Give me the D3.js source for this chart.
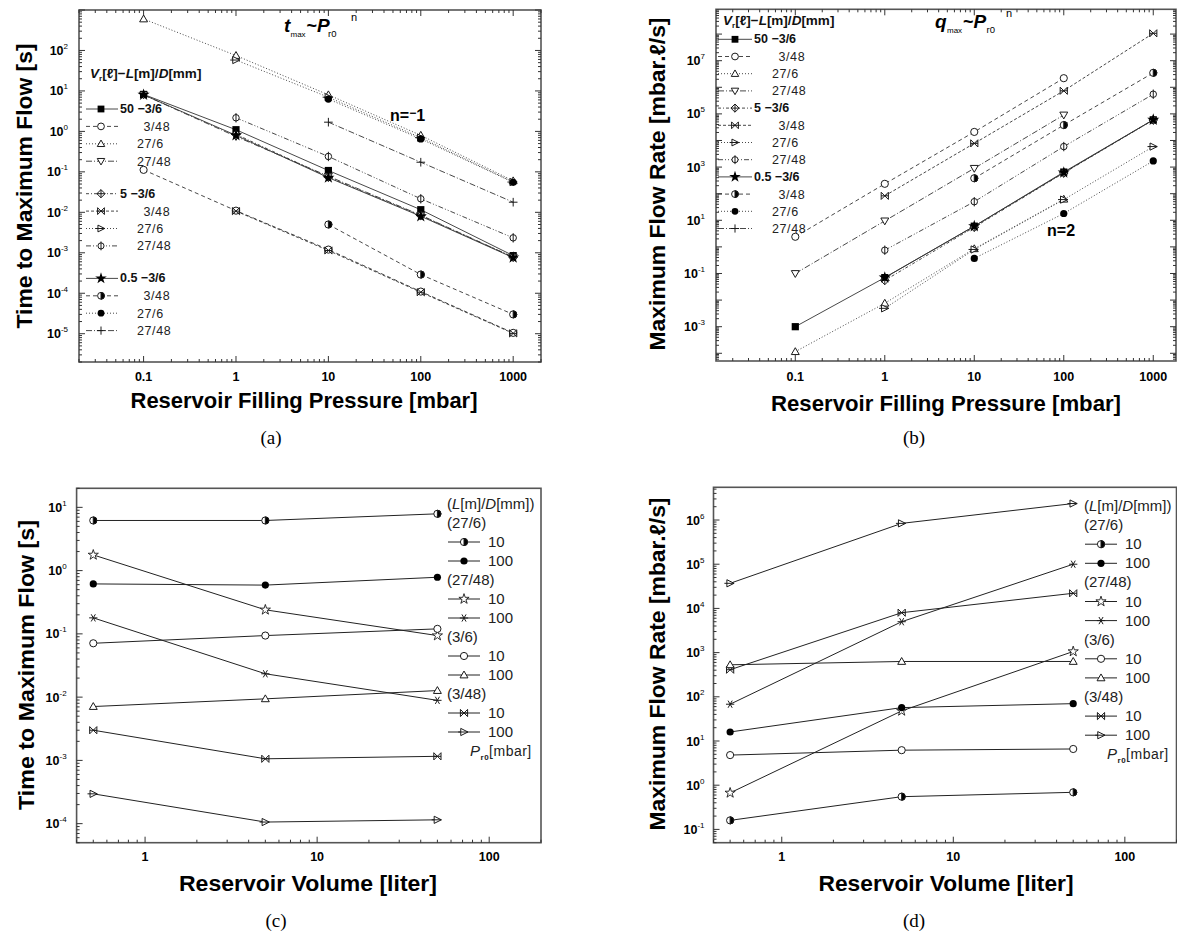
<!DOCTYPE html>
<html><head><meta charset="utf-8">
<script src="https://cdn.jsdelivr.net/npm/d3@7"></script>
<style>
body{margin:0;background:#fff;}
svg{display:block;font-family:"Liberation Sans",Arial,sans-serif;}
</style></head><body>
<script>
// ---------------- data ----------------
const pressures = [0.1, 1, 10, 100, 1000];          // reservoir filling pressure [mbar]
const volumes = [0.5, 5, 50];                       // reservoir volume [liter]
const groupVolumes = ["50", "5", "0.5"];            // V_r [l]
const geometries = ["3/6", "3/48", "27/6", "27/48"]; // L[m]/D[mm]

// time to maximum flow [s] versus pressure, one row per geometry
const tmaxV50 = [
  [8.2, 1.1, 0.108, 0.0116, 8.5e-4],
  [0.112, 0.011, 0.0012, 1.1e-4, 1.05e-5],
  [600, 75, 8.0, 0.8, 0.06],
  [8.0, 0.75, 0.078, 0.0085, 7.8e-4]
];
const tmaxV5 = [
  [null, 0.85, 0.074, 0.0083, 7.8e-4],
  [null, 0.0107, 0.00114, 1.06e-4, 1.02e-5],
  [null, 58, 7.0, 0.7, 0.056],
  [null, 2.17, 0.24, 0.0216, 0.00234]
];
const tmaxV05 = [
  [8.0, 0.8, 0.072, 0.008, 7.6e-4],
  [null, null, 0.005, 2.9e-4, 3.0e-5],
  [null, null, 6.3, 0.65, 0.055],
  [null, null, 1.69, 0.173, 0.0178]
];

// maximum flow rate [mbar.l/s] versus pressure
const qmaxV50 = [
  [1e-3, 0.07, 6, 650, 6e4],
  [2.4, 235, 2.1e4, 2.2e6, null],
  [1.15e-4, 0.0076, 0.85, 62, null],
  [0.1, 9.5, 900, 9.1e4, null]
];
const qmaxV5 = [
  [null, 0.055, 5.5, 600, 5.9e4],
  [null, 83, 7.8e3, 7.4e5, 1.07e8],
  [null, 0.0049, 0.8, 60, 5.9e3],
  [null, 0.75, 50, 5.9e3, 5.5e5]
];
const qmaxV05 = [
  [null, 0.07, 6, 620, 6e4],
  [null, null, 380, 3.8e4, 3.5e6],
  [null, null, 0.37, 18, 1.7e3],
  [null, null, null, null, null]
];

// versus reservoir volume, rows: 27/6, 27/48, 3/6, 3/48
const volGeometries = ["27/6", "27/48", "3/6", "3/48"];
const volPressures = ["10", "100"];
const tmaxP10 = [
  [6.2, 6.2, 7.9],
  [1.77, 0.24, 0.094],
  [0.071, 0.094, 0.12],
  [0.003, 0.00106, 0.00116]
];
const tmaxP100 = [
  [0.616, 0.59, 0.785],
  [0.179, 0.0234, 0.0089],
  [0.0071, 0.0094, 0.0127],
  [2.96e-4, 1.06e-4, 1.15e-4]
];
const qmaxP10 = [
  [0.16, 0.55, 0.69],
  [0.67, 48, 1060],
  [4.8, 6.2, 6.6],
  [410, 8000, 22000]
];
const qmaxP100 = [
  [16, 57, 70],
  [68, 5000, 1e5],
  [530, 630, 630],
  [3.7e4, 8.4e5, 2.36e6]
];

const pressureTickLabels = ["0.1", "1", "10", "100", "1000"];
const volumeTickLabels = ["1", "10", "100"];

// ---------------- styles ----------------
const abMarkers = ["sqf","circ","tri","trid","diaPlus","bowX","triR","phi","starF","half","dotF","plus"];
const abDashes = [null,"4,3","1,2","6,2,1,2","3,2,1,2","3,2","1,2","5,2,1,2,1,2",null,"4,3","1,2","6,2,1,2"];
const volMarkers = [["half","dotF"],["starO","aster"],["circ","tri"],["bowX","triR"]];

const INK = "#1a1a1a";

const svg = d3.select("body").append("svg").attr("width", 1177).attr("height", 936);

// ---------------- helpers ----------------
function marker(g, type, cx, cy, s) {
  const p = (d, fill) => g.append("path").attr("d", d).attr("stroke", INK).attr("stroke-width", 1).attr("fill", fill || "#fff");
  switch (type) {
    case "sqf": g.append("rect").attr("x", cx - s).attr("y", cy - s).attr("width", 2*s).attr("height", 2*s).attr("fill", "#000"); break;
    case "circ": g.append("circle").attr("cx", cx).attr("cy", cy).attr("r", s).attr("fill", "#fff").attr("stroke", INK); break;
    case "tri": p(`M${cx},${cy-s*1.1}L${cx+s*1.1},${cy+s*0.8}L${cx-s*1.1},${cy+s*0.8}Z`); break;
    case "trid": p(`M${cx},${cy+s*1.1}L${cx+s*1.1},${cy-s*0.8}L${cx-s*1.1},${cy-s*0.8}Z`); break;
    case "diaPlus":
      p(`M${cx},${cy-s*1.2}L${cx+s*1.2},${cy}L${cx},${cy+s*1.2}L${cx-s*1.2},${cy}Z`);
      p(`M${cx-s*1.2},${cy}H${cx+s*1.2}M${cx},${cy-s*1.2}V${cy+s*1.2}`, "none"); break;
    case "bowX":
      p(`M${cx-s},${cy-s}L${cx+s},${cy+s}L${cx+s},${cy-s}L${cx-s},${cy+s}Z`, "none");
      p(`M${cx-s},${cy}H${cx+s}`, "none"); break;
    case "triR":
      p(`M${cx-s*0.9},${cy-s}L${cx+s*1.1},${cy}L${cx-s*0.9},${cy+s}Z`);
      p(`M${cx-s*1.6},${cy}H${cx+s*1.1}`, "none"); break;
    case "phi":
      g.append("circle").attr("cx", cx).attr("cy", cy).attr("r", s*0.9).attr("fill", "#fff").attr("stroke", INK);
      p(`M${cx},${cy-s*1.3}V${cy+s*1.3}`, "none"); break;
    case "starF":
      g.append("path").attr("transform", `translate(${cx},${cy})`).attr("d", d3.symbol(d3.symbolStar, s*s*3.6)()).attr("fill", "#000"); break;
    case "starO":
      g.append("path").attr("transform", `translate(${cx},${cy})`).attr("d", d3.symbol(d3.symbolStar, s*s*2.5)()).attr("fill", "#fff").attr("stroke", INK).attr("stroke-width", 0.9); break;
    case "half":
      g.append("circle").attr("cx", cx).attr("cy", cy).attr("r", s).attr("fill", "#fff").attr("stroke", INK);
      p(`M${cx},${cy-s}A${s},${s} 0 0 1 ${cx},${cy+s}Z`, "#000"); break;
    case "dotF": g.append("circle").attr("cx", cx).attr("cy", cy).attr("r", s).attr("fill", "#000"); break;
    case "plus": p(`M${cx-s*1.2},${cy}H${cx+s*1.2}M${cx},${cy-s*1.2}V${cy+s*1.2}`, "none"); break;
    case "aster": {
      const a = s*1.15, b = a*0.866, c = a*0.5;
      p(`M${cx-a},${cy}H${cx+a}M${cx-c},${cy-b}L${cx+c},${cy+b}M${cx-c},${cy+b}L${cx+c},${cy-b}`, "none"); break;
    }
  }
}

function decadeTicks(domain) {
  const out = [];
  const k0 = Math.floor(Math.log10(domain[0])), k1 = Math.ceil(Math.log10(domain[1]));
  for (let k = k0; k <= k1; k++) for (let m = 1; m <= 9; m++) {
    const v = m * Math.pow(10, k);
    if (v >= domain[0] * 0.9999 && v <= domain[1] * 1.0001) out.push({v, major: m === 1, k});
  }
  return out;
}

function frameAxes(g, x, y, o) {
  const [x0, x1] = x.range(), [y0, y1] = y.range(); // y0 bottom, y1 top
  g.append("rect").attr("x", x0).attr("y", y1).attr("width", x1 - x0).attr("height", y0 - y1)
    .attr("fill", "none").attr("stroke", "#555").attr("stroke-width", 1.6);
  const tk = g.append("g").attr("stroke", "#333").attr("stroke-width", 1);
  decadeTicks(x.domain()).forEach(t => {
    const X = x(t.v), L = t.major ? 6 : 3;
    tk.append("line").attr("x1", X).attr("x2", X).attr("y1", y0).attr("y2", y0 - L);
    if (o.mirror) tk.append("line").attr("x1", X).attr("x2", X).attr("y1", y1).attr("y2", y1 + L);
  });
  decadeTicks(y.domain()).forEach(t => {
    const Y = y(t.v), L = t.major ? 6 : 3;
    tk.append("line").attr("x1", x0).attr("x2", x0 + L).attr("y1", Y).attr("y2", Y);
    if (o.mirror) tk.append("line").attr("x1", x1).attr("x2", x1 - L).attr("y1", Y).attr("y2", Y);
  });
  // x tick labels
  o.xLabels.forEach(lbl => {
    g.append("text").attr("x", x(+lbl)).attr("y", o.xLabelY).attr("text-anchor", "middle")
      .attr("font-size", 12.5).attr("font-weight", "bold").attr("fill", "#000").text(lbl);
  });
  // y tick labels: powers of ten
  o.yExps.forEach(e => {
    const t = g.append("text").attr("x", x0 - o.yLabelGap).attr("y", y(Math.pow(10, e)) + 4.5)
      .attr("text-anchor", "end").attr("fill", "#000");
    t.append("tspan").attr("font-size", 12.5).attr("font-weight", "bold").text("10");
    t.append("tspan").attr("font-size", 8).attr("dy", -6).text(e < 0 ? "-" + (-e) : String(e));
  });
  // axis titles
  g.append("text").attr("x", o.xTitle[0]).attr("y", o.xTitle[1]).attr("text-anchor", "middle")
    .attr("dy", "0.35em").attr("font-size", 22).attr("font-weight", "bold")
    .attr("textLength", o.xTitle[2]).attr("lengthAdjust", "spacingAndGlyphs").text(o.xTitleText);
  g.append("text").attr("transform", `translate(${o.yTitle[0]},${o.yTitle[1]}) rotate(-90)`)
    .attr("text-anchor", "middle").attr("dy", "0.35em").attr("font-size", 22).attr("font-weight", "bold")
    .attr("textLength", o.yTitle[2]).attr("lengthAdjust", "spacingAndGlyphs").text(o.yTitleText);
  g.append("text").attr("x", o.tag[0]).attr("y", o.tag[1]).attr("text-anchor", "middle").attr("dy", "0.35em")
    .attr("font-family", '"Liberation Serif", "DejaVu Serif", serif').attr("font-size", 19).text(o.tagText);
}

// ---------------- panels (a) and (b): versus pressure ----------------
function pressurePanel(cfg) {
  const g = svg.append("g");
  const x = d3.scaleLog().domain(cfg.xDomain).range(cfg.xRange);
  const y = d3.scaleLog().domain(cfg.yDomain).range(cfg.yRange);
  frameAxes(g, x, y, cfg.axes);
  const line = d3.line().defined(d => d != null).x((d, i) => x(pressures[i])).y(d => y(d));
  const rows = [];
  cfg.sets.forEach((set, gi) => set.forEach((vals, j) => rows.push({vals, idx: gi * 4 + j})));
  rows.forEach(r => {
    g.append("path").attr("d", line(r.vals)).attr("fill", "none").attr("stroke", "#333")
      .attr("stroke-width", 0.9).attr("stroke-dasharray", abDashes[r.idx]);
  });
  rows.forEach(r => r.vals.forEach((v, i) => { if (v != null) marker(g, abMarkers[r.idx], x(pressures[i]), y(v), 3.6); }));

  // legend
  const L = cfg.legend;
  const hdr = g.append("text").attr("x", L.x).attr("y", L.hy).attr("font-size", 13.5).attr("font-weight", "bold").attr("fill", "#111");
  hdr.append("tspan").attr("font-style", "italic").text("V");
  hdr.append("tspan").attr("font-size", 8).attr("dy", 3).text("r");
  hdr.append("tspan").attr("dy", -3).text("[ℓ]−");
  hdr.append("tspan").attr("font-style", "italic").text("L");
  hdr.append("tspan").text("[m]/");
  hdr.append("tspan").attr("font-style", "italic").text("D");
  hdr.append("tspan").text("[mm]");
  for (let gi = 0; gi < 3; gi++) for (let j = 0; j < 4; j++) {
    const idx = gi * 4 + j, ry = L.rowY(gi, j);
    g.append("line").attr("x1", L.lx0).attr("x2", L.lx1).attr("y1", ry).attr("y2", ry)
      .attr("stroke", "#333").attr("stroke-width", 0.9).attr("stroke-dasharray", abDashes[idx]);
    marker(g, abMarkers[idx], L.mx, ry, 3.4);
    if (j === 0) {
      g.append("text").attr("x", L.bx).attr("y", ry + 4).attr("font-size", 12.5).attr("font-weight", "bold")
        .attr("fill", "#111").text(groupVolumes[gi] + " −3/6");
    } else {
      const gx = geometries[j].startsWith("3/") ? L.tx + 6.5 : L.tx;
      g.append("text").attr("x", gx).attr("y", ry + 4.5).attr("font-size", 12.5)
        .attr("fill", "#222").attr("letter-spacing", 0.6).text(geometries[j]);
    }
  }
  // power-law title, one text element with positioned pieces
  const T = cfg.title;
  const tt = g.append("text").attr("y", T.by).attr("fill", "#000").attr("font-weight", "bold");
  tt.append("tspan").attr("x", T.x[0]).attr("font-size", 19).attr("font-style", "italic").text(T.sym);
  tt.append("tspan").attr("x", T.x[1]).attr("dy", 5).attr("font-size", 8).attr("font-weight", "normal").text("max");
  tt.append("tspan").attr("x", T.x[2]).attr("dy", -5).attr("font-size", 18).text("~");
  tt.append("tspan").attr("x", T.x[3]).attr("font-size", 19).attr("font-style", "italic").text("P");
  tt.append("tspan").attr("x", T.x[4]).attr("dy", 5).attr("font-size", 9.5).attr("font-weight", "normal").text("r0");
  tt.append("tspan").attr("x", T.x[5]).attr("dy", -16).attr("font-size", 11).attr("font-weight", "normal").text("n");
  // slope annotation
  const s = g.append("text").attr("x", cfg.slope.x).attr("y", cfg.slope.y).attr("font-size", 16).attr("font-weight", "bold").attr("fill", "#000");
  s.append("tspan").text("n=");
  if (cfg.slope.neg) { s.append("tspan").attr("font-size", 12).attr("dy", -4).text("−"); s.append("tspan").attr("dy", 4).text(cfg.slope.val); }
  else s.append("tspan").text(cfg.slope.val);
}

pressurePanel({
  xDomain: [0.02, 2000], xRange: [79, 541],
  yDomain: [2e-6, 1e3], yRange: [362, 10],
  sets: [tmaxV50, tmaxV5, tmaxV05],
  axes: {mirror: true, xLabels: pressureTickLabels, xLabelY: 381, yExps: [2,1,0,-1,-2,-3,-4,-5], yLabelGap: 11,
         xTitle: [304, 400, 347], xTitleText: "Reservoir Filling Pressure [mbar]",
         yTitle: [24, 186, 285], yTitleText: "Time to Maximum Flow [s]",
         tag: [271, 437], tagText: "(a)"},
  legend: {x: 90, hy: 78, lx0: 86, lx1: 118, mx: 101, bx: 120, tx: 137,
           rowY: (gi, j) => 109 + gi * 84.7 + j * 17.4},
  title: {sym: "t", by: 32, x: [284, 290.5, 306.5, 317, 328, 351]},
  slope: {x: 390, y: 121, neg: true, val: "1"}
});

pressurePanel({
  xDomain: [0.013, 1795], xRange: [716, 1176],
  yDomain: [5.13e-5, 8.55e8], yRange: [361, 9.3],
  sets: [qmaxV50, qmaxV5, qmaxV05],
  axes: {mirror: true, xLabels: pressureTickLabels, xLabelY: 381, yExps: [7,5,3,1,-1,-3], yLabelGap: 11,
         xTitle: [946, 403, 350], xTitleText: "Reservoir Filling Pressure [mbar]",
         yTitle: [657, 184, 333], yTitleText: "Maximum Flow Rate [mbar.ℓ/s]",
         tag: [914, 437], tagText: "(b)"},
  legend: {x: 723, hy: 25, lx0: 718, lx1: 752, mx: 735, bx: 754, tx: 772,
           rowY: (gi, j) => 39.3 + (gi * 4 + j) * 17.2},
  title: {sym: "q", by: 28, x: [935, 947, 963, 973.5, 986.5, 1006]},
  slope: {x: 1047, y: 236, neg: false, val: "2"}
});

// ---------------- panels (c) and (d): versus reservoir volume ----------------
function volumePanel(cfg) {
  const g = svg.append("g");
  const x = d3.scaleLog().domain([0.4, 200]).range(cfg.xRange);
  const y = d3.scaleLog().domain(cfg.yDomain).range(cfg.yRange);
  frameAxes(g, x, y, cfg.axes);
  const line = d3.line().x((d, i) => x(volumes[i])).y(d => y(d));
  [cfg.p10, cfg.p100].forEach(set => set.forEach(vals => {
    g.append("path").attr("d", line(vals)).attr("fill", "none").attr("stroke", "#222").attr("stroke-width", 1);
  }));
  [cfg.p10, cfg.p100].forEach((set, pi) => set.forEach((vals, gi) => {
    vals.forEach((v, i) => marker(g, volMarkers[gi][pi], x(volumes[i]), y(v), 3.6));
  }));
  // legend
  const L = cfg.legend, fs = 15;
  const row = i => L.y0 + i * L.dy;
  const h = g.append("text").attr("x", L.x).attr("y", row(0) + 5).attr("font-size", fs).attr("fill", "#222");
  h.append("tspan").text("(");
  h.append("tspan").attr("font-style", "italic").text("L");
  h.append("tspan").text("[m]/");
  h.append("tspan").attr("font-style", "italic").text("D");
  h.append("tspan").text("[mm])");
  volGeometries.forEach((geo, gi) => {
    const r0 = 1 + gi * 3;
    g.append("text").attr("x", L.x).attr("y", row(r0) + 5).attr("font-size", fs).attr("fill", "#222").text("(" + geo + ")");
    volPressures.forEach((p, pi) => {
      const ry = row(r0 + 1 + pi);
      g.append("line").attr("x1", L.x + 1).attr("x2", L.x + 33).attr("y1", ry).attr("y2", ry).attr("stroke", "#222");
      marker(g, volMarkers[gi][pi], L.x + 17, ry, 3.6);
      g.append("text").attr("x", L.x + 41).attr("y", ry + 5).attr("font-size", fs).attr("fill", "#222").text(p);
    });
  });
  const pr = g.append("text").attr("x", L.x + 23).attr("y", row(13) + 5).attr("font-size", 14).attr("fill", "#222").attr("letter-spacing", 0.5);
  pr.append("tspan").attr("font-style", "italic").attr("font-size", fs).text("P");
  pr.append("tspan").attr("font-size", 8).attr("font-weight", "bold").attr("dy", 4).text("r0");
  pr.append("tspan").attr("dy", -4).text("[mbar]");
}

volumePanel({
  xRange: [76.6, 541], yDomain: [5e-5, 20], yRange: [842.7, 488.3],
  p10: tmaxP10, p100: tmaxP100,
  axes: {mirror: false, xLabels: volumeTickLabels, xLabelY: 861, yExps: [1,0,-1,-2,-3,-4], yLabelGap: 10,
         xTitle: [308, 883, 258], xTitleText: "Reservoir Volume [liter]",
         yTitle: [26, 665, 290], yTitleText: "Time to Maximum Flow [s]",
         tag: [276, 920], tagText: "(c)"},
  legend: {x: 447, y0: 504, dy: 19}
});

volumePanel({
  xRange: [713.5, 1176.5], yDomain: [0.05, 5.5e6], yRange: [842.7, 487.3],
  p10: qmaxP10, p100: qmaxP100,
  axes: {mirror: false, xLabels: volumeTickLabels, xLabelY: 861, yExps: [6,5,4,3,2,1,0,-1], yLabelGap: 9,
         xTitle: [946, 883, 255], xTitleText: "Reservoir Volume [liter]",
         yTitle: [657, 664, 333], yTitleText: "Maximum Flow Rate [mbar.ℓ/s]",
         tag: [914, 920], tagText: "(d)"},
  legend: {x: 1084, y0: 506, dy: 19.1}
});
</script>
</body></html>
